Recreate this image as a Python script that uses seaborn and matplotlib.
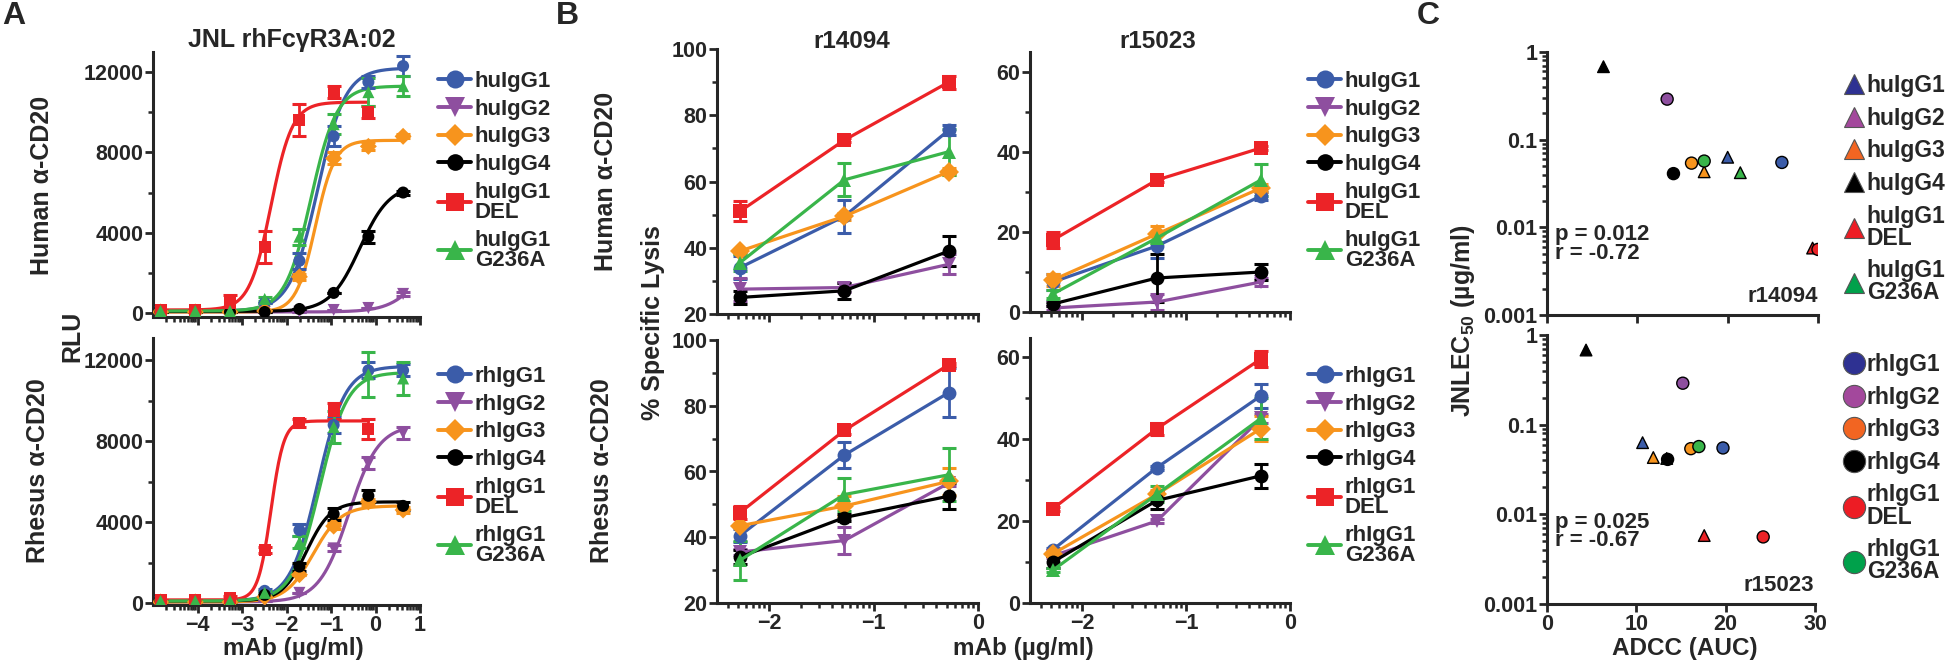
import numpy as np
import pandas as pd
import matplotlib
matplotlib.use('Agg')
import matplotlib.pyplot as plt
from matplotlib.lines import Line2D
from matplotlib.ticker import FixedLocator, NullFormatter
import seaborn as sns

# ---------------- data ----------------
isotypes = ['G1', 'G2', 'G3', 'G4', 'G1 DEL', 'G1 G236A']
hu_labels = ['huIgG1', 'huIgG2', 'huIgG3', 'huIgG4', 'huIgG1\nDEL', 'huIgG1\nG236A']
rh_labels = ['rhIgG1', 'rhIgG2', 'rhIgG3', 'rhIgG4', 'rhIgG1\nDEL', 'rhIgG1\nG236A']

# panel A: log10 mAb (ug/ml) and RLU
dose_a = [-4.83, -4.05, -3.27, -2.49, -1.71, -0.94, -0.16, 0.62]
nan = np.nan
a_hu = {
    'G1':       [100, 100, 100, 500, 2600, 8800, 11500, 12300],
    'G2':       [50, 50, 50, 50, 60, 150, 250, 950],
    'G3':       [50, 50, 50, 100, 1800, 7700, 8300, 8800],
    'G4':       [50, 50, 50, 50, 200, 1000, 3800, 6000],
    'G1 DEL':   [150, 150, 500, 3300, 9600, 11000, 10000, nan],
    'G1 G236A': [100, 100, 100, 700, 3800, 9400, 11000, 11300],
}
a_hu_err = {
    'G1':       [0, 0, 0, 0, 400, 500, 300, 500],
    'G2':       [0, 0, 0, 0, 0, 0, 0, 100],
    'G3':       [0, 0, 0, 0, 150, 300, 200, 100],
    'G4':       [0, 0, 0, 0, 0, 0, 300, 100],
    'G1 DEL':   [0, 0, 400, 800, 800, 300, 300, nan],
    'G1 G236A': [0, 0, 0, 100, 400, 500, 700, 500],
}
a_rh = {
    'G1':       [100, 100, 150, 600, 3600, 8800, 11500, 11500],
    'G2':       [50, 50, 50, 100, 500, 2700, 6900, 8400],
    'G3':       [50, 50, 50, 300, 1400, 3800, 5000, 4600],
    'G4':       [100, 100, 100, 400, 1800, 4400, 5300, 4800],
    'G1 DEL':   [150, 150, 250, 2600, 8900, 9500, 8600, nan],
    'G1 G236A': [100, 100, 100, 500, 3000, 8700, 11300, 11100],
}
a_rh_err = {
    'G1':       [0, 0, 0, 100, 300, 400, 400, 300],
    'G2':       [0, 0, 0, 0, 0, 150, 300, 300],
    'G3':       [0, 0, 0, 0, 0, 150, 150, 150],
    'G4':       [0, 0, 0, 0, 200, 300, 300, 200],
    'G1 DEL':   [0, 0, 100, 150, 200, 400, 500, nan],
    'G1 G236A': [0, 0, 0, 100, 300, 800, 1100, 800],
}
# 4PL fit parameters: bottom, top, logEC50, hill
fit_hu = {
    'G1': (100, 12200, -1.30, 1.4), 'G2': (50, 4000, 1.10, 1.2),
    'G3': (50, 8600, -1.35, 2.0), 'G4': (80, 6400, -0.35, 1.3),
    'G1 DEL': (150, 10500, -2.35, 1.8), 'G1 G236A': (100, 11300, -1.45, 1.5),
}
fit_rh = {
    'G1': (100, 11700, -1.30, 1.4), 'G2': (50, 8800, -0.60, 1.3),
    'G3': (50, 4800, -1.40, 1.4), 'G4': (100, 5000, -1.55, 1.6),
    'G1 DEL': (150, 9000, -2.35, 3.0), 'G1 G236A': (100, 11400, -1.25, 1.4),
}

# panel B: % specific lysis
dose_b = [-2.28, -1.28, -0.28]
b_hu_14094 = {'G1': [34, 49.5, 75.5], 'G2': [27.5, 28, 35], 'G3': [39, 49.5, 63],
              'G4': [25, 27, 39], 'G1 DEL': [51, 72.5, 90], 'G1 G236A': [35.5, 60.5, 69]}
b_hu_14094_err = {'G1': [3.5, 5, 1.5], 'G2': [3.5, 1.5, 3], 'G3': [0.5, 1, 1],
                  'G4': [2, 2.5, 4.5], 'G1 DEL': [3, 0.5, 2], 'G1 G236A': [2.5, 5, 7]}
b_hu_15023 = {'G1': [7.5, 16.5, 29], 'G2': [1, 2.5, 7.5], 'G3': [8, 19.5, 31],
              'G4': [2, 8.5, 10], 'G1 DEL': [18, 33, 41], 'G1 G236A': [4.5, 18.5, 33]}
b_hu_15023_err = {'G1': [2, 3, 1], 'G2': [0.5, 2, 1], 'G3': [1.5, 2, 1],
                  'G4': [0.5, 6, 2], 'G1 DEL': [2, 0.5, 0.5], 'G1 G236A': [1, 1, 4]}
b_rh_14094 = {'G1': [40.5, 65, 84], 'G2': [35.5, 39, 56.5], 'G3': [43.5, 49.5, 57],
              'G4': [34, 46, 52.5], 'G1 DEL': [47.5, 72.5, 92.5], 'G1 G236A': [33, 53, 59]}
b_rh_14094_err = {'G1': [2, 4, 7.5], 'G2': [1, 4, 1], 'G3': [0.5, 3, 4],
                  'G4': [2, 1, 4], 'G1 DEL': [2, 1, 0.5], 'G1 G236A': [6, 5, 8]}
b_rh_15023 = {'G1': [13, 33, 50.5], 'G2': [11.5, 20, 45], 'G3': [12, 26.5, 42.5],
              'G4': [10, 25, 31], 'G1 DEL': [23, 42.5, 59.5], 'G1 G236A': [8, 26.5, 45]}
b_rh_15023_err = {'G1': [0.5, 0.5, 3], 'G2': [0.5, 0.5, 1], 'G3': [0.5, 1, 3],
                  'G4': [1.5, 2, 3], 'G1 DEL': [0.5, 1.5, 2], 'G1 G236A': [0.5, 2, 5]}

# panel C: JNL EC50 vs ADCC AUC
ec50_hu = [0.063, nan, 0.043, 0.68, 0.0058, 0.042]
ec50_rh = [0.055, 0.29, 0.054, 0.041, 0.0056, 0.057]
auc_hu_14094 = [20.0, nan, 17.4, 6.25, 29.4, 21.4]
auc_rh_14094 = [26.0, 13.3, 16.0, 14.0, 30.0, 17.4]
auc_hu_15023 = [10.7, nan, 11.9, 4.37, 17.6, 13.4]
auc_rh_15023 = [19.7, 15.2, 16.1, 13.5, 24.2, 17.0]

# ---------------- style ----------------
colors = ['#3b5ca9', '#8e4f9f', '#f7941d', '#000000', '#ec2327', '#39b54a']
legend_c_colors = ['#2e3192', '#a3489c', '#f26522', '#000000', '#ed1c24', '#00a14b']
mk = ['o', 'v', 'D', 'o', 's', '^']
msz = [10, 11, 8, 9, 10, 11]
palette = dict(zip(isotypes, colors))
markers = dict(zip(isotypes, mk))

sns.set_style('ticks')
plt.rcParams['font.family'] = ['Liberation Sans', 'DejaVu Sans']
plt.rcParams['font.weight'] = 'bold'
plt.rcParams['mathtext.fontset'] = 'custom'
plt.rcParams['mathtext.rm'] = 'Liberation Sans:bold'
plt.rcParams['mathtext.bf'] = 'Liberation Sans:bold'

W, H = 1950, 660
fig = plt.figure(figsize=(W / 100, H / 100), dpi=100)


def add_ax(left, top, right, bottom):
    return fig.add_axes([left / W, 1 - bottom / H, (right - left) / W, (bottom - top) / H])


def style(ax):
    sns.despine(ax=ax)
    for s in ['left', 'bottom']:
        ax.spines[s].set_linewidth(2.2)
    ax.tick_params(which='major', width=2, length=5.5, labelsize=15.5, pad=1.5)
    ax.tick_params(which='minor', width=1.8, length=3.5)
    for lab in ax.get_xticklabels() + ax.get_yticklabels():
        lab.set_fontweight('bold')


def log_minor(lo, hi):
    return [np.log10(k) + n for n in range(-7, 2) for k in range(2, 10)
            if lo <= np.log10(k) + n <= hi]


def ftext(x, y, s, size=18, rot=0, ha='center', va='center'):
    fig.text(x / W, 1 - y / H, s, fontsize=size, fontweight='bold', rotation=rot, ha=ha, va=va)


# ---------------- panel A ----------------
def panel_a(ax, vals, errs, fits, show_x):
    rows, crows = [], []
    for iso in isotypes:
        for x, y in zip(dose_a, vals[iso]):
            rows.append({'x': x, 'y': y, 'iso': iso})
        xs_data = [x for x, y in zip(dose_a, vals[iso]) if not np.isnan(y)]
        b, t, ec, h = fits[iso]
        xs = np.linspace(xs_data[0], xs_data[-1], 200)
        for x in xs:
            crows.append({'x': x, 'y': b + (t - b) / (1 + 10 ** ((ec - x) * h)), 'iso': iso})
    pts = pd.DataFrame(rows).dropna()
    crv = pd.DataFrame(crows)
    sns.lineplot(data=crv, x='x', y='y', hue='iso', palette=palette, lw=2.3,
                 legend=False, ax=ax, estimator=None, sort=False)
    for iso, c in zip(isotypes, colors):
        ax.errorbar(dose_a, vals[iso], yerr=errs[iso], fmt='none', ecolor=c,
                    elinewidth=2, capsize=5, capthick=2.2)
    sns.scatterplot(data=pts, x='x', y='y', hue='iso', style='iso', palette=palette,
                    markers=markers, s=75, linewidth=0, legend=False, ax=ax, zorder=5)
    ax.set_xlim(-5, 1)
    ax.set_xticks([-4, -3, -2, -1, 0, 1])
    ax.xaxis.set_minor_locator(FixedLocator(log_minor(-5, 1)))
    ax.set_yticks([0, 4000, 8000, 12000])
    ax.yaxis.set_minor_locator(FixedLocator([2000, 6000, 10000]))
    ax.set_xlabel('')
    ax.set_ylabel('')
    if not show_x:
        ax.tick_params(axis='x', labelbottom=False)
    style(ax)


ax_a1 = add_ax(153, 52, 420, 317)
panel_a(ax_a1, a_hu, a_hu_err, fit_hu, False)
ax_a1.set_ylim(-200, 13000)
ax_a2 = add_ax(153, 338, 420, 605)
panel_a(ax_a2, a_rh, a_rh_err, fit_rh, True)
ax_a2.set_ylim(-100, 13100)


# ---------------- panel B ----------------
def panel_b(ax, vals, errs, ylim, yticks, yminor, show_x):
    rows = []
    for iso in isotypes:
        for x, y in zip(dose_b, vals[iso]):
            rows.append({'x': x, 'y': y, 'iso': iso})
    df = pd.DataFrame(rows)
    for iso, c in zip(isotypes, colors):
        ax.errorbar(dose_b, vals[iso], yerr=errs[iso], fmt='none', ecolor=c,
                    elinewidth=2, capsize=5, capthick=2.2)
    sns.lineplot(data=df, x='x', y='y', hue='iso', style='iso', palette=palette,
                 markers=markers, dashes=False, lw=2.3, markersize=10, markeredgewidth=0,
                 legend=False, ax=ax, estimator=None, sort=False)
    ax.set_xlim(-2.5, 0)
    ax.set_xticks([-2, -1, 0])
    ax.xaxis.set_minor_locator(FixedLocator(log_minor(-2.5, 0)))
    ax.set_ylim(*ylim)
    ax.set_yticks(yticks)
    ax.yaxis.set_minor_locator(FixedLocator(yminor))
    ax.set_xlabel('')
    ax.set_ylabel('')
    if not show_x:
        ax.tick_params(axis='x', labelbottom=False)
    style(ax)


ax_b1 = add_ax(717, 49, 978, 314)
panel_b(ax_b1, b_hu_14094, b_hu_14094_err, (20, 100), [20, 40, 60, 80, 100], [30, 50, 70, 90], False)
ax_b2 = add_ax(1030, 52, 1290, 312)
panel_b(ax_b2, b_hu_15023, b_hu_15023_err, (0, 65), [0, 20, 40, 60], [10, 30, 50], False)
ax_b3 = add_ax(717, 340, 978, 603)
panel_b(ax_b3, b_rh_14094, b_rh_14094_err, (20, 100), [20, 40, 60, 80, 100], [30, 50, 70, 90], True)
ax_b4 = add_ax(1030, 338, 1290, 603)
panel_b(ax_b4, b_rh_15023, b_rh_15023_err, (0, 64.6), [0, 20, 40, 60], [10, 30, 50], True)


# ---------------- panel C ----------------
def panel_c(ax, auc_hu, auc_rh, show_x):
    rows = []
    for iso, x, y in zip(isotypes, auc_hu, ec50_hu):
        rows.append({'x': x, 'y': y, 'iso': iso, 'sp': 'hu'})
    for iso, x, y in zip(isotypes, auc_rh, ec50_rh):
        rows.append({'x': x, 'y': y, 'iso': iso, 'sp': 'rh'})
    df = pd.DataFrame(rows).dropna()
    sns.scatterplot(data=df[df.sp == 'hu'], x='x', y='y', hue='iso', palette=palette,
                    marker='^', s=70, edgecolor='black', linewidth=1, legend=False, ax=ax)
    sns.scatterplot(data=df[df.sp == 'rh'], x='x', y='y', hue='iso', palette=palette,
                    marker='o', s=75, edgecolor='black', linewidth=1, legend=False, ax=ax)
    ax.set_yscale('log')
    ax.set_ylim(0.001, 1)
    ax.set_yticks([0.001, 0.01, 0.1, 1])
    ax.set_yticklabels(['0.001', '0.01', '0.1', '1'])
    ax.yaxis.set_minor_formatter(NullFormatter())
    ax.set_xlim(0, 30)
    ax.set_xticks([0, 10, 20, 30])
    ax.set_xlabel('')
    ax.set_ylabel('')
    if not show_x:
        ax.tick_params(axis='x', labelbottom=False)
    style(ax)


ax_c1 = add_ax(1547, 52, 1818, 315)
panel_c(ax_c1, auc_hu_14094, auc_rh_14094, False)
ax_c2 = add_ax(1547, 335, 1815, 604)
panel_c(ax_c2, auc_hu_15023, auc_rh_15023, True)

ax_c1.text(0.03, 0.27, 'p = 0.012\nr = -0.72', transform=ax_c1.transAxes, fontsize=16,
           fontweight='bold', va='center', ha='left', linespacing=0.85)
ax_c1.text(1.0, 0.07, 'r14094', transform=ax_c1.transAxes, fontsize=16,
           fontweight='bold', va='center', ha='right')
ax_c2.text(0.03, 0.27, 'p = 0.025\nr = -0.67', transform=ax_c2.transAxes, fontsize=16,
           fontweight='bold', va='center', ha='left', linespacing=0.85)
ax_c2.text(0.995, 0.07, 'r15023', transform=ax_c2.transAxes, fontsize=16,
           fontweight='bold', va='center', ha='right')

# ---------------- legends ----------------
def line_handles():
    return [Line2D([0], [0], color=c, marker=m, lw=2.8, ms=s + 3, markeredgewidth=0)
            for c, m, s in zip(colors, mk, msz)]


def add_legend(handles, labels, x, y, size=16, hlen=1.5, spacing=0.3):
    leg = fig.legend(handles, labels, loc='upper left', bbox_to_anchor=(x / W, 1 - y / H),
                     frameon=False, prop={'weight': 'bold', 'size': size}, handlelength=hlen,
                     handletextpad=0.15, labelspacing=spacing, borderpad=0, borderaxespad=0)
    for t in leg.get_texts():
        t.set_linespacing(0.95)
    return leg


add_legend(line_handles(), hu_labels, 438, 71)
add_legend(line_handles(), rh_labels, 438, 366)
add_legend(line_handles(), hu_labels, 1308, 71)
add_legend(line_handles(), rh_labels, 1308, 366)

tri_handles = [Line2D([0], [0], ls='none', marker='^', ms=14, markerfacecolor=c,
                      markeredgecolor='#555555', markeredgewidth=0.8) for c in legend_c_colors]
circ_handles = [Line2D([0], [0], ls='none', marker='o', ms=16, markerfacecolor=c,
                       markeredgecolor='#555555', markeredgewidth=0.8) for c in legend_c_colors]
add_legend(tri_handles, hu_labels, 1845, 74, size=16.5, hlen=0.8, spacing=0.42)
add_legend(circ_handles, rh_labels, 1845, 353, size=16.5, hlen=0.8, spacing=0.42)

# ---------------- labels ----------------
ftext(14, 16, 'A', size=23)
ftext(567, 16, 'B', size=23)
ftext(1428, 16, 'C', size=23)
ftext(292, 40, 'JNL rhFcγR3A:02', size=18)
ftext(852, 42, 'r14094', size=17.5)
ftext(1158, 42, 'r15023', size=17.5)

ftext(42, 185, 'Human α-CD20', rot=90)
ftext(38, 471, 'Rhesus α-CD20', rot=90)
ftext(72, 336, 'RLU', rot=90)
ftext(293, 648, 'mAb (µg/ml)', size=17.5)

ftext(606, 181, 'Human α-CD20', rot=90)
ftext(602, 471, 'Rhesus α-CD20', rot=90)
ftext(653, 323, '% Specific Lysis', rot=90)
ftext(1023, 648, 'mAb (µg/ml)', size=17.5)

ftext(1463, 321, r'JNLEC$_{50}$ (µg/ml)', rot=90)
ftext(1685, 648, 'ADCC (AUC)', size=17.5)

fig.savefig('out.png', dpi=100)
